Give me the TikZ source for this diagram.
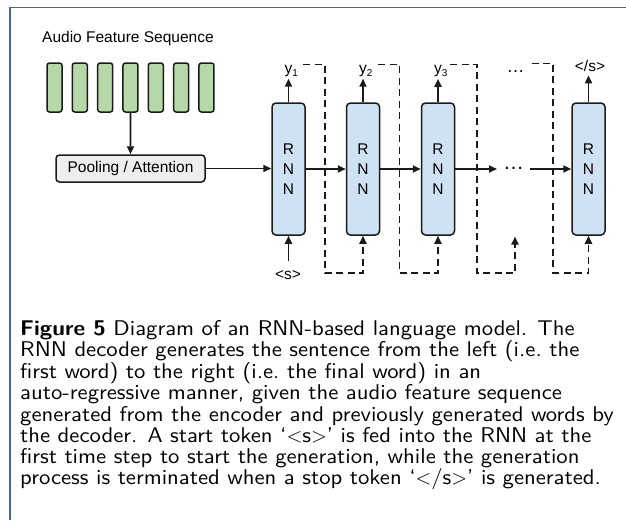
\documentclass[tikz,border=0pt]{standalone}
\usepackage{fontspec}
\newfontfamily\arialf{Liberation Sans}
\newfontfamily\capf{lmsans10-regular.otf}[BoldFont=lmsans10-bold.otf, FakeStretch=1.065, Ligatures=TeX]
\usetikzlibrary{arrows.meta,calc}
\definecolor{featgreen}{HTML}{B6D7A8}
\definecolor{rnnblue}{HTML}{CFE2F3}
\definecolor{poolgray}{HTML}{EEEEEE}
\definecolor{framec}{HTML}{41689A}
\definecolor{edgec}{HTML}{1A1A1A}
\begin{document}
\begin{tikzpicture}[x=1pt,y=-1pt,
 feat/.style={draw=edgec, fill=featgreen, rounded corners=2.5pt, line width=1.5pt, minimum width=15pt, minimum height=49pt, inner sep=0pt},
 pool/.style={draw=edgec, fill=poolgray, rounded corners=3.5pt, line width=1.5pt, minimum width=149pt, minimum height=27pt, inner sep=0pt, font=\arialf\fontsize{15.5}{18}\selectfont},
 rnn/.style={draw=edgec, fill=rnnblue, rounded corners=4pt, line width=1.5pt, minimum width=33pt, minimum height=132pt, inner sep=0pt, align=center, font=\arialf\fontsize{15.5}{20}\selectfont},
 lbl/.style={inner sep=0pt, font=\arialf\fontsize{15.5}{18}\selectfont},
 arr/.style={line width=1.8pt, draw=edgec, -{Triangle[length=8pt,width=7pt]}},
 fb/.style={line width=1.8pt, draw=edgec, dash pattern=on 7pt off 4.5pt},
 fbarr/.style={fb, -{Triangle[length=8pt,width=7pt]}},
]
\useasboundingbox (0,0) rectangle (626,520);
\draw[framec, line width=1.5pt] (10,520) -- (10,7.5) -- (626,7.5);

% audio features
\node[lbl, anchor=base west] (title) at (42,42.3) {Audio Feature Sequence};
\foreach \i in {1,...,7}{
  \node[feat] (f\i) at ({54.5+25.33*(\i-1)},87.5) {};
}
\node[pool] (pool) at (130.5,168.5) {Pooling / Attention};
\draw[arr] (f4.south) -- (pool.north);

% RNN cells
\node[rnn] (r1) at (288.5,169) {R\\N\\N};
\node[rnn] (r2) at (363,169) {R\\N\\N};
\node[rnn] (r3) at (438,169) {R\\N\\N};
\node[rnn] (rn) at (588.5,169) {R\\N\\N};

% horizontal flow
\draw[arr] (pool.east) -- (pool.east -| r1.west);
\draw[arr] (r1.east) -- (r2.west);
\draw[arr] (r2.east) -- (r3.west);
\coordinate (m4in) at (497,169);
\coordinate (m4out) at (530,169);
\draw[arr] (r3.east) -- (m4in);
\node[lbl, anchor=base, font=\arialf\fontsize{21}{21}\selectfont] (dm) at (513.5,169.5) {…};
\draw[arr] (m4out) -- (rn.west);

% outputs
\node[lbl, anchor=base] (y1) at (288.5,73) {y\rlap{\raisebox{-3.5pt}{\fontsize{10}{10}\selectfont 1}}};
\node[lbl, anchor=base] (y2) at (363,73) {y\rlap{\raisebox{-3.5pt}{\fontsize{10}{10}\selectfont 2}}};
\node[lbl, anchor=base] (y3) at (438,73) {y\rlap{\raisebox{-3.5pt}{\fontsize{10}{10}\selectfont 3}}};
\node[lbl, anchor=base, font=\arialf\fontsize{18}{18}\selectfont] (dt) at (515.5,72) {…};
\node[lbl, anchor=base] (es) at (590,71) {</s>};
\draw[arr] (r1.north) -- ([yshift=-2pt]y1.south -| r1.north);
\draw[arr] (r2.north) -- ([yshift=-2pt]y2.south -| r2.north);
\draw[arr] (r3.north) -- ([yshift=-2pt]y3.south -| r3.north);
\draw[arr] (rn.north) -- ([yshift=-4pt]es.south -| rn.north);

% start token
\node[lbl, anchor=base] (s0) at (288,279) {<s>};
\draw[arr] ([yshift=9pt]s0.north -| r1.south) -- (r1.south);

% feedback (dashed)
\coordinate (g4) at (515,236.5);
\draw[fbarr] ($(y1.base)+(14.5,-8.5)$) -| (325,273) -| (r2.south);
\draw[fbarr] ($(y2.base)+(15,-8.5)$) -| (399.5,273) -| (r3.south);
\draw[fbarr] ($(y3.base)+(12,-8.5)$) -| (476.7,273) -| (g4);
\draw[fbarr] ($(dt.base)+(16,-8.5)$) -| (553.3,273) -| (rn.south);

% caption
\node[anchor=north west, inner sep=0pt, align=left, font=\capf\fontsize{21.3}{21.2}\selectfont] (cap) at (20,320) {%
\textbf{Figure 5} Diagram of an RNN-based language model. The\\
RNN decoder generates the sentence from the left (i.e.\ the\\
first word) to the right (i.e.\ the final word) in an\\
auto-regressive manner, given the audio feature sequence\\
generated from the encoder and previously generated words by\\
the decoder. A start token `$<$s$>$' is fed into the RNN at the\\
first time step to start the generation, while the generation\\
process is terminated when a stop token `$<$/s$>$' is generated.};
\end{tikzpicture}
\end{document}
